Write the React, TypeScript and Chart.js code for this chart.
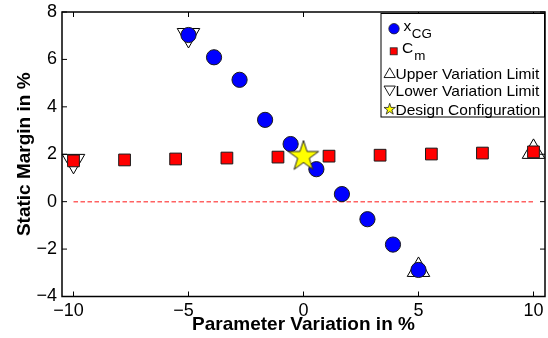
import React, { useEffect, useRef } from 'react';
import { Chart, registerables } from 'chart.js';

Chart.register(...registerables);

// ---- data ----
const xcgX = [-5, -3.89, -2.78, -1.67, -0.56, 0.56, 1.67, 2.78, 3.89, 5];
const xcgValues = [7.03, 6.09, 5.14, 3.45, 2.43, 1.37, 0.32, -0.74, -1.81, -2.88];
const cmX = [-10, -7.78, -5.56, -3.33, -1.11, 1.11, 3.33, 5.56, 7.78, 10];
const cmValues = [1.72, 1.76, 1.8, 1.84, 1.88, 1.92, 1.96, 2.01, 2.05, 2.1];
const upperX = [5, 10];
const upperValues = [-2.88, 2.1];
const lowerX = [-10, -5];
const lowerValues = [1.72, 7.03];
const designX = [0];
const designValues = [1.91];
const zeroLineX = [-10, 10];
const zeroLineValues = [0, 0];
const xTicks = [-10, -5, 0, 5, 10];
const yTicks = [-4, -2, 0, 2, 4, 6, 8];
const legendLabels = ['x', 'C', 'Upper Variation Limit', 'Lower Variation Limit', 'Design Configuration'];
const legendSubs = ['CG', 'm', '', '', ''];

const FONT = '"Liberation Sans", Arial, Helvetica, sans-serif';

const pts = (xs: number[], ys: number[]) => xs.map((x, i) => ({ x, y: ys[i] }));
const fmt = (v: number) => (v < 0 ? '\u2212' + Math.abs(v) : String(v));

function starPath(ctx: CanvasRenderingContext2D, cx: number, cy: number, R: number, r: number) {
  ctx.beginPath();
  for (let i = 0; i < 10; i++) {
    const ang = -Math.PI / 2 + (i * Math.PI) / 5;
    const rad = i % 2 === 0 ? R : r;
    const px = cx + rad * Math.cos(ang);
    const py = cy + rad * Math.sin(ang);
    if (i === 0) ctx.moveTo(px, py);
    else ctx.lineTo(px, py);
  }
  ctx.closePath();
}

function makeStar(R: number) {
  const c = document.createElement('canvas');
  const s = Math.ceil(2 * R + 4);
  c.width = s;
  c.height = s;
  const g = c.getContext('2d')!;
  starPath(g, s / 2, s / 2, R, R * 0.382);
  g.fillStyle = '#ffff00';
  g.fill();
  g.strokeStyle = '#222';
  g.lineWidth = 1;
  g.stroke();
  return c;
}

const framePlugin = {
  id: 'matlabFrame',
  afterDatasetsDraw(chart: any) {
    const { ctx, chartArea: a, scales } = chart;
    ctx.save();
    ctx.strokeStyle = '#000';
    ctx.lineWidth = 1;
    const L = 5;
    ctx.beginPath();
    xTicks.forEach((v) => {
      const p = scales.x.getPixelForValue(v);
      ctx.moveTo(p, a.bottom);
      ctx.lineTo(p, a.bottom - L);
      ctx.moveTo(p, a.top);
      ctx.lineTo(p, a.top + L);
    });
    yTicks.forEach((v) => {
      const p = scales.y.getPixelForValue(v);
      ctx.moveTo(a.left, p);
      ctx.lineTo(a.left + L, p);
      ctx.moveTo(a.right, p);
      ctx.lineTo(a.right - L, p);
    });
    ctx.stroke();
    ctx.lineWidth = 1.5;
    ctx.strokeRect(a.left, a.top, a.right - a.left, a.bottom - a.top);
    ctx.restore();
  },
};

const STRETCH = 1.07;
function drawText(ctx: CanvasRenderingContext2D, text: string, x: number, y: number, size: number) {
  ctx.save();
  ctx.translate(x, y);
  ctx.scale(STRETCH, 1);
  ctx.font = `${size}px ${FONT}`;
  ctx.fillStyle = '#000';
  ctx.textBaseline = 'alphabetic';
  ctx.textAlign = 'left';
  ctx.fillText(text, 0, 0);
  const w = ctx.measureText(text).width * STRETCH;
  ctx.restore();
  return w;
}

const legendPlugin = {
  id: 'matlabLegend',
  afterDraw(chart: any) {
    const { ctx, chartArea: a } = chart;
    const l = 381;
    const t = a.top + 1.5;
    const r = a.right - 0.5;
    const b = 117;
    ctx.save();
    ctx.fillStyle = '#fff';
    ctx.fillRect(l, t, r - l, b - t);
    ctx.strokeStyle = '#000';
    ctx.lineWidth = 1;
    ctx.strokeRect(l, t, r - l, b - t);

    ctx.beginPath();
    ctx.arc(394, 28.7, 5.2, 0, Math.PI * 2);
    ctx.fillStyle = '#0000ff';
    ctx.fill();
    ctx.strokeStyle = '#222';
    ctx.lineWidth = 0.8;
    ctx.stroke();
    let w = drawText(ctx, legendLabels[0], 403.5, 30.7, 14.5);
    drawText(ctx, legendSubs[0], 403.5 + w + 0.5, 38, 12.5);

    ctx.fillStyle = '#ff0000';
    ctx.fillRect(390.2, 47.8, 7, 7);
    ctx.strokeStyle = '#222';
    ctx.strokeRect(390.2, 47.8, 7, 7);
    w = drawText(ctx, legendLabels[1], 402, 53, 14.5);
    drawText(ctx, legendSubs[1], 402 + w + 1, 60.3, 12.5);

    const tri = (cx: number, cy: number, R: number, down: boolean) => {
      ctx.beginPath();
      for (let i = 0; i < 3; i++) {
        const ang = (down ? Math.PI / 2 : -Math.PI / 2) + (i * 2 * Math.PI) / 3;
        const px = cx + R * Math.cos(ang);
        const py = cy + R * Math.sin(ang);
        if (i === 0) ctx.moveTo(px, py);
        else ctx.lineTo(px, py);
      }
      ctx.closePath();
      ctx.strokeStyle = '#000';
      ctx.lineWidth = 0.9;
      ctx.stroke();
    };
    tri(389.7, 74.3, 6.5, false);
    drawText(ctx, legendLabels[2], 395.5, 78.5, 14.5);
    tri(389.7, 89.3, 6.5, true);
    drawText(ctx, legendLabels[3], 395.5, 95.9, 14.5);

    starPath(ctx, 389.7, 109.3, 6, 6 * 0.382);
    ctx.fillStyle = '#ffff00';
    ctx.fill();
    ctx.strokeStyle = '#222';
    ctx.lineWidth = 0.8;
    ctx.stroke();
    drawText(ctx, legendLabels[4], 395.5, 114.5, 14.5);
    ctx.restore();
  },
};

export default function App() {
  const ref = useRef<HTMLCanvasElement>(null);
  useEffect(() => {
    if (!ref.current) return;
    const star = makeStar(16);
    const chart = new Chart(ref.current, {
      type: 'scatter',
      data: {
        datasets: [
          { label: 'Design Configuration', data: pts(designX, designValues), pointStyle: star as any, pointRadius: 16, clip: false as any },
          { label: 'xCG', data: pts(xcgX, xcgValues), pointStyle: 'circle', pointRadius: 7.6, backgroundColor: '#0000ff', borderColor: '#1a1a1a', borderWidth: 1, clip: false as any },
          { label: 'Cm', data: pts(cmX, cmValues), pointStyle: 'rect', pointRadius: 8.3, backgroundColor: '#ff0000', borderColor: '#1a1a1a', borderWidth: 1, clip: false as any },
          { label: 'Upper Variation Limit', data: pts(upperX, upperValues), pointStyle: 'triangle', pointRadius: 13, backgroundColor: 'rgba(255,255,255,0)', borderColor: '#000', borderWidth: 1, clip: false as any },
          { label: 'Lower Variation Limit', data: pts(lowerX, lowerValues), pointStyle: 'triangle', rotation: 180, pointRadius: 13, backgroundColor: 'rgba(255,255,255,0)', borderColor: '#000', borderWidth: 1, clip: false as any },
          { label: 'zero', data: pts(zeroLineX, zeroLineValues), showLine: true, pointRadius: 0, borderColor: '#ff6262', borderWidth: 1.5, borderDash: [4.5, 2.5] },
        ],
      },
      options: {
        responsive: false,
        animation: false,
        devicePixelRatio: 1,
        events: [],
        layout: { autoPadding: false, padding: { top: 12, right: 3, left: 0, bottom: 0 } },
        plugins: { legend: { display: false }, tooltip: { enabled: false } },
        scales: {
          x: {
            type: 'linear',
            position: 'bottom',
            min: -10.5,
            max: 10.5,
            afterFit: (s: any) => {
              s.height = 41.5;
              s.paddingLeft = 0;
              s.paddingRight = 0;
              s.paddingTop = 0;
              s.paddingBottom = 0;
            },
            afterBuildTicks: (s: any) => {
              s.ticks = xTicks.map((v) => ({ value: v }));
            },
            grid: { display: false, drawTicks: false },
            border: { display: false },
            ticks: {
              padding: 4,
              color: '#000',
              maxRotation: 0,
              autoSkip: false,
              font: { family: FONT, size: 18 },
              callback: (v: any) => (v < 0 ? fmt(v) + '\u2007' : fmt(v)),
            },
            title: {
              display: true,
              text: 'Parameter Variation in %',
              color: '#000',
              font: { family: FONT, size: 19, weight: 'bold' },
              padding: { top: 0, bottom: 2 },
            },
          },
          y: {
            type: 'linear',
            min: -4,
            max: 8,
            afterFit: (s: any) => {
              s.width = 62;
              s.paddingLeft = 0;
              s.paddingRight = 0;
              s.paddingTop = 0;
              s.paddingBottom = 0;
            },
            afterBuildTicks: (s: any) => {
              s.ticks = yTicks.map((v) => ({ value: v }));
            },
            grid: { display: false, drawTicks: false },
            border: { display: false },
            ticks: {
              padding: 5,
              color: '#000',
              autoSkip: false,
              font: { family: FONT, size: 18 },
              callback: (v: any) => fmt(v),
            },
            title: {
              display: true,
              text: 'Static Margin in %',
              color: '#000',
              font: { family: FONT, size: 19, weight: 'bold' },
              padding: { top: 13, bottom: 0 },
            },
          },
        },
      } as any,
      plugins: [framePlugin, legendPlugin],
    });
    return () => chart.destroy();
  }, []);
  return (
    <div style={{ position: 'absolute', left: 0, top: 0, width: 548, height: 338, background: '#fff' }}>
      <canvas ref={ref} width={548} height={338} style={{ display: 'block' }} />
    </div>
  );
}
